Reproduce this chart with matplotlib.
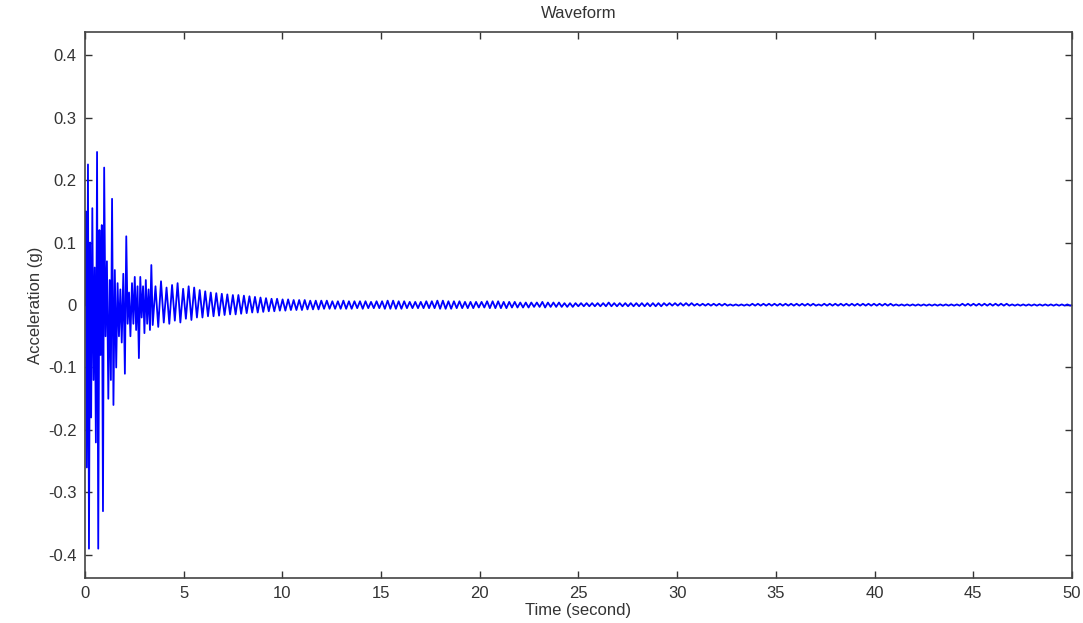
import numpy as np
import matplotlib.pyplot as plt

plt.rcParams['font.family'] = ['Liberation Sans', 'DejaVu Sans']
plt.rcParams['axes.unicode_minus'] = False

# early part of the record (s, g)
early_t = [0.00, 0.04, 0.09, 0.15, 0.20, 0.26, 0.31, 0.37, 0.43, 0.49,
           0.55, 0.61, 0.67, 0.73, 0.79, 0.85, 0.91, 0.97, 1.04, 1.11,
           1.18, 1.25, 1.31, 1.37, 1.44, 1.51, 1.58, 1.65, 1.72, 1.79,
           1.86, 1.94, 2.02, 2.09, 2.16, 2.23, 2.30, 2.38, 2.45, 2.52,
           2.59, 2.66, 2.73, 2.80, 2.87, 2.94, 3.01, 3.08, 3.15, 3.22,
           3.29, 3.36, 3.43]
early_v = [0.00, 0.15, -0.26, 0.225, -0.39, 0.10, -0.18, 0.155, -0.12, 0.06,
           -0.22, 0.245, -0.39, 0.12, -0.08, 0.128, -0.33, 0.22, -0.05, 0.07,
           -0.15, 0.04, -0.12, 0.17, -0.16, 0.056, -0.10, 0.035, -0.05, 0.025,
           -0.06, 0.05, -0.11, 0.11, -0.03, 0.02, -0.05, 0.035, -0.03, 0.045,
           -0.04, 0.03, -0.085, 0.045, -0.02, 0.03, -0.045, 0.04, -0.03, 0.025,
           -0.04, 0.064, -0.032]

# decaying tail: one peak and one trough per cycle, in milli-g
TAIL_START = 3.5
TAIL_PERIOD = 0.28
tail_peaks = [30, 38, 28, 32, 35, 26, 30, 28, 24, 22,
              20, 19, 18, 17, 16, 16, 15, 14, 13, 12,
              11, 10, 10, 9, 9, 8, 8, 8, 7, 7,
              7, 7, 6, 6, 7, 6, 6, 6, 6, 5,
              6, 6, 7, 7, 6, 6, 5, 5, 5, 6,
              6, 7, 7, 6, 6, 6, 5, 5, 5, 5,
              6, 6, 6, 5, 5, 5, 4, 4, 4, 4,
              5, 4, 4, 4, 3, 3, 3, 3, 3, 3,
              3, 3, 4, 3, 3, 3, 3, 3, 3, 3,
              3, 3, 3, 3, 3, 3, 3, 3, 2, 2,
              2, 2, 2, 2, 1, 1, 1, 1, 2, 2,
              2, 2, 2, 2, 2, 2, 2, 2, 2, 2,
              1, 2, 2, 2, 2, 2, 2, 2, 2, 2,
              2, 2, 2, 2, 1, 1, 1, 1, 1, 1,
              1, 1, 1, 1, 1, 1, 2, 2, 2, 2,
              2, 2, 2, 2, 2, 1, 1, 1, 1, 1,
              1, 1, 1, 1, 1, 1]
tail_troughs = [35, 28, 30, 25, 28, 22, 24, 20, 20, 18,
                18, 17, 16, 15, 15, 14, 13, 12, 12, 11,
                10, 10, 9, 9, 8, 8, 8, 7, 7, 7,
                6, 6, 6, 6, 6, 6, 5, 6, 5, 5,
                5, 6, 6, 6, 6, 5, 5, 5, 5, 5,
                5, 6, 6, 6, 5, 5, 5, 5, 4, 4,
                5, 5, 5, 5, 4, 4, 4, 4, 3, 3,
                4, 3, 3, 3, 3, 3, 2, 2, 2, 2,
                2, 2, 2, 2, 2, 2, 2, 2, 2, 2,
                2, 2, 1, 1, 1, 1, 1, 1, 1, 1,
                1, 1, 1, 1, 1, 1, 1, 1, 1, 1,
                1, 1, 1, 1, 1, 1, 1, 1, 1, 1,
                1, 1, 1, 1, 1, 1, 1, 1, 1, 1,
                1, 1, 1, 1, 1, 1, 1, 1, 1, 1,
                1, 1, 1, 1, 1, 1, 1, 1, 1, 1,
                1, 1, 1, 1, 1, 1, 1, 1, 1, 1,
                1, 1, 1, 1, 1, 1]

yticks = [-0.4, -0.3, -0.2, -0.1, 0, 0.1, 0.2, 0.3, 0.4]
ytick_labels = ['-0.4', '-0.3', '-0.2', '-0.1', '0', '0.1', '0.2', '0.3', '0.4']
xticks = [0, 5, 10, 15, 20, 25, 30, 35, 40, 45, 50]

# stitch the series together
n = len(tail_peaks)
cyc = TAIL_START + TAIL_PERIOD * np.arange(n)
tail_t = np.column_stack([cyc + TAIL_PERIOD * 0.25, cyc + TAIL_PERIOD * 0.75]).ravel()
tail_v = np.column_stack([np.array(tail_peaks), -np.array(tail_troughs)]).ravel() / 1000.0
t = np.concatenate([early_t, tail_t, [50.0]])
acc = np.concatenate([early_v, tail_v, [0.0]])

fig = plt.figure(figsize=(10.83, 6.23), dpi=100)
ax = fig.add_axes([0.0785, 0.0722, 0.9113, 0.8764])
ax.plot(t, acc, color='#0000ff', lw=1.3)

ax.set_xlim(0, 50)
ax.set_ylim(-0.437, 0.437)
ax.set_xticks(xticks)
ax.set_yticks(yticks)
ax.set_yticklabels(ytick_labels)
ax.tick_params(direction='in', length=5, width=1, top=True, right=True,
               labelsize=12, colors='#333333', pad=6)
for s in ax.spines.values():
    s.set_color('#444444')
    s.set_linewidth(1.2)

ax.set_title('Waveform', fontsize=12, color='#333333', pad=10)
ax.set_xlabel('Time (second)', fontsize=12, color='#333333', labelpad=1)
ax.set_ylabel('Acceleration (g)', fontsize=12, color='#333333', labelpad=4)

fig.savefig('out.png', dpi=100)
